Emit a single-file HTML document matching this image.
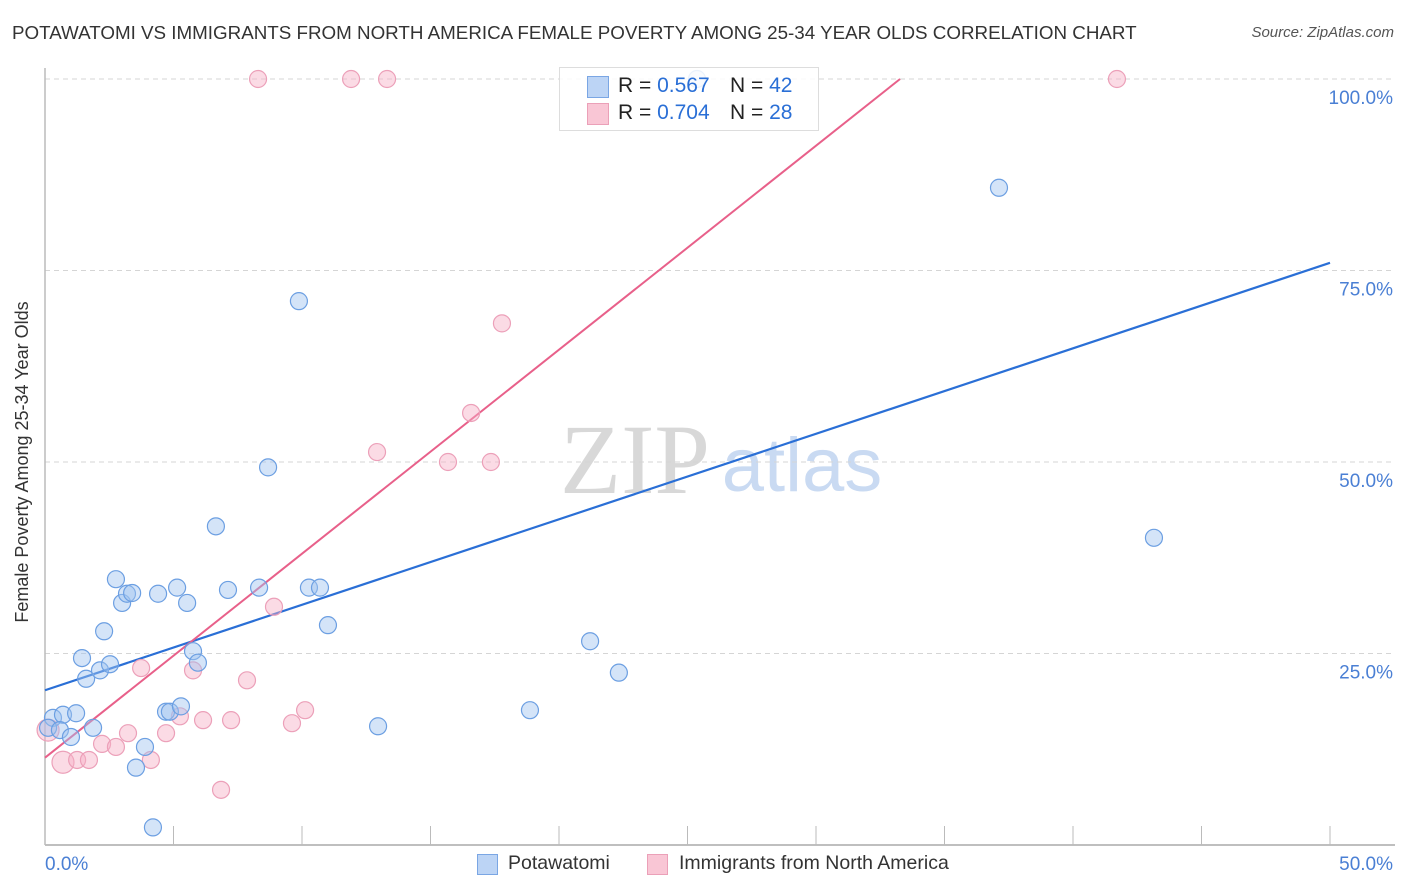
<!DOCTYPE html>
<html><head><meta charset="utf-8">
<style>
body{margin:0;background:#fff;font-family:"Liberation Sans",sans-serif;}
#wrap{position:relative;width:1406px;height:892px;overflow:hidden;}
.t{position:absolute;white-space:nowrap;}
</style></head>
<body>
<div id="wrap">
<div class="t" style="left:12px;top:22px;font-size:18.8px;color:#333;">POTAWATOMI VS IMMIGRANTS FROM NORTH AMERICA FEMALE POVERTY AMONG 25-34 YEAR OLDS CORRELATION CHART</div>
<div class="t" style="right:12px;top:24px;font-size:15px;color:#555;font-style:italic;">Source: ZipAtlas.com</div>
<svg id="svg" width="1406" height="892" style="position:absolute;left:0;top:0">
<text x="635" y="493" font-family="Liberation Serif,serif" font-size="100" fill="#d8d8d8" text-anchor="middle">ZIP</text>
<text x="802" y="491" font-family="Liberation Sans,sans-serif" font-size="76" fill="#c9daf2" text-anchor="middle">atlas</text>
<g id="grid"></g><g id="axes"></g><g id="lines"></g><g id="pts"></g>
<text x="22" y="456" transform="rotate(-90 28 456)" font-size="18" fill="#333" text-anchor="middle">Female Poverty Among 25-34 Year Olds</text>
</svg>
<div style="position:absolute;left:559px;top:67px;width:258px;height:62px;border:1px solid #ddd;background:rgba(255,255,255,0.85);font-size:21px;">
<div style="position:absolute;left:27px;top:8px;width:20px;height:20px;background:#bcd4f5;border:1px solid #7aa6e4;"></div>
<div class="t" style="left:58px;top:6px;color:#222;">R = <span style="color:#2a6fd6">0.567</span></div>
<div class="t" style="left:170px;top:6px;color:#222;">N = <span style="color:#2a6fd6">42</span></div>
<div style="position:absolute;left:27px;top:35px;width:20px;height:20px;background:#f9c6d5;border:1px solid #eba0b8;"></div>
<div class="t" style="left:58px;top:33px;color:#222;">R = <span style="color:#2a6fd6">0.704</span></div>
<div class="t" style="left:170px;top:33px;color:#222;">N = <span style="color:#2a6fd6">28</span></div>
</div>
<div>
<div style="position:absolute;left:477px;top:854px;width:19px;height:19px;background:#bcd4f5;border:1px solid #7aa6e4;"></div>
<div class="t" style="left:508px;top:852px;font-size:19.5px;color:#333;">Potawatomi</div>
<div style="position:absolute;left:647px;top:854px;width:19px;height:19px;background:#f9c6d5;border:1px solid #eba0b8;"></div>
<div class="t" style="left:679px;top:852px;font-size:19.5px;color:#333;">Immigrants from North America</div>
</div>
</div>
<script>
const blueX=[0.31,0.70,1.21,0.12,0.58,1.01,1.87,3.54,4.20,3.89,2.76,2.30,3.00,3.19,3.39,4.40,5.14,5.53,1.44,1.60,2.14,2.53,5.76,5.95,4.71,4.86,5.29,6.65,7.12,8.33,8.68,9.88,10.27,10.70,11.01,12.96,18.87,21.21,22.33,37.12,43.15,25.37];
const blueY=[16.6,17.0,17.2,15.3,15.0,14.1,15.3,10.1,2.3,12.8,34.7,27.9,31.6,32.8,32.9,32.8,33.6,31.6,24.4,21.7,22.8,23.6,25.3,23.8,17.4,17.4,18.1,41.6,33.3,33.6,49.3,71.0,33.6,33.6,28.7,15.5,17.6,26.6,22.5,85.8,40.1,100];
const pinkX=[0.12,0.70,1.25,1.71,2.22,2.76,3.23,3.74,4.12,4.71,5.25,5.76,6.15,6.85,7.24,7.86,8.91,9.61,10.12,8.29,11.91,13.31,12.92,15.68,17.35,16.58,17.78,41.71];
const pinkY=[15.0,10.8,11.1,11.1,13.2,12.8,14.6,23.1,11.1,14.6,16.8,22.8,16.3,7.2,16.3,21.5,31.1,15.9,17.6,100,100,100,51.3,50.0,50.0,56.4,68.1,100];
const blueLine=[20.2,76.0];
const pinkLine=[11.4,2.663];
const yTicks=[25,50,75,100];
const yTickLabels=["25.0%","50.0%","75.0%","100.0%"];
const xTickVals=[0,5,10,15,20,25,30,35,40,45,50];
const xs=v=>45+v*25.7, ys=v=>845-v*7.66;
const NS="http://www.w3.org/2000/svg";
function mk(tag,at,parent){const e=document.createElementNS(NS,tag);for(const k in at)e.setAttribute(k,at[k]);document.getElementById(parent).appendChild(e);return e;}
yTicks.forEach((v,i)=>{
 const l=mk('line',{x1:45,x2:1395,y1:ys(v),y2:ys(v),stroke:'#d5d5d5','stroke-dasharray':'5,4'},'grid');
 
 
 const t=mk('text',{x:1393,y:ys(v)+25,'text-anchor':'end','font-size':19,fill:'#4a7fd4'},'grid');
 t.textContent=yTickLabels[i];
 
 
});
const ax=mk('line',{x1:45,x2:1395,y1:845,y2:845,stroke:'#aaa','stroke-width':1.5},'axes');


const ay=mk('line',{x1:45,x2:45,y1:68,y2:845,stroke:'#bbb','stroke-width':1.5},'axes');


xTickVals.forEach(v=>{
 const l=mk('line',{x1:xs(v),x2:xs(v),y1:826,y2:845,stroke:'#bbb'},'axes');
 
 
});
[[0,'0.0%','start',45],[50,'50.0%','end',1393]].forEach(a=>{
 const t=mk('text',{x:a[3],y:870,'text-anchor':a[2],'font-size':19,fill:'#4a7fd4'},'axes');
 t.textContent=a[1];
 
 
});
const bl=mk('line',{x1:xs(0),y1:ys(blueLine[0]),x2:xs(50),y2:ys(blueLine[1]),stroke:'#2a6fd6','stroke-width':2.2},'lines');


const xEnd=(100-pinkLine[0])/pinkLine[1];
const pl=mk('line',{x1:xs(0),y1:ys(pinkLine[0]),x2:xs(xEnd),y2:ys(100),stroke:'#e8608a','stroke-width':2},'lines');


pinkX.forEach((x,i)=>{
 const r=i<2?11:8.5;
 const c=mk('circle',{cx:xs(x),cy:ys(pinkY[i]),r:r,fill:'rgba(246,176,198,0.45)',stroke:'#eca0b9','stroke-width':1.2},'pts');
 
 
});
blueX.forEach((x,i)=>{
 const c=mk('circle',{cx:xs(x),cy:ys(blueY[i]),r:8.5,fill:'rgba(160,195,240,0.45)',stroke:'#6c9fe2','stroke-width':1.2},'pts');
 
 
});
</script>
</body></html>
